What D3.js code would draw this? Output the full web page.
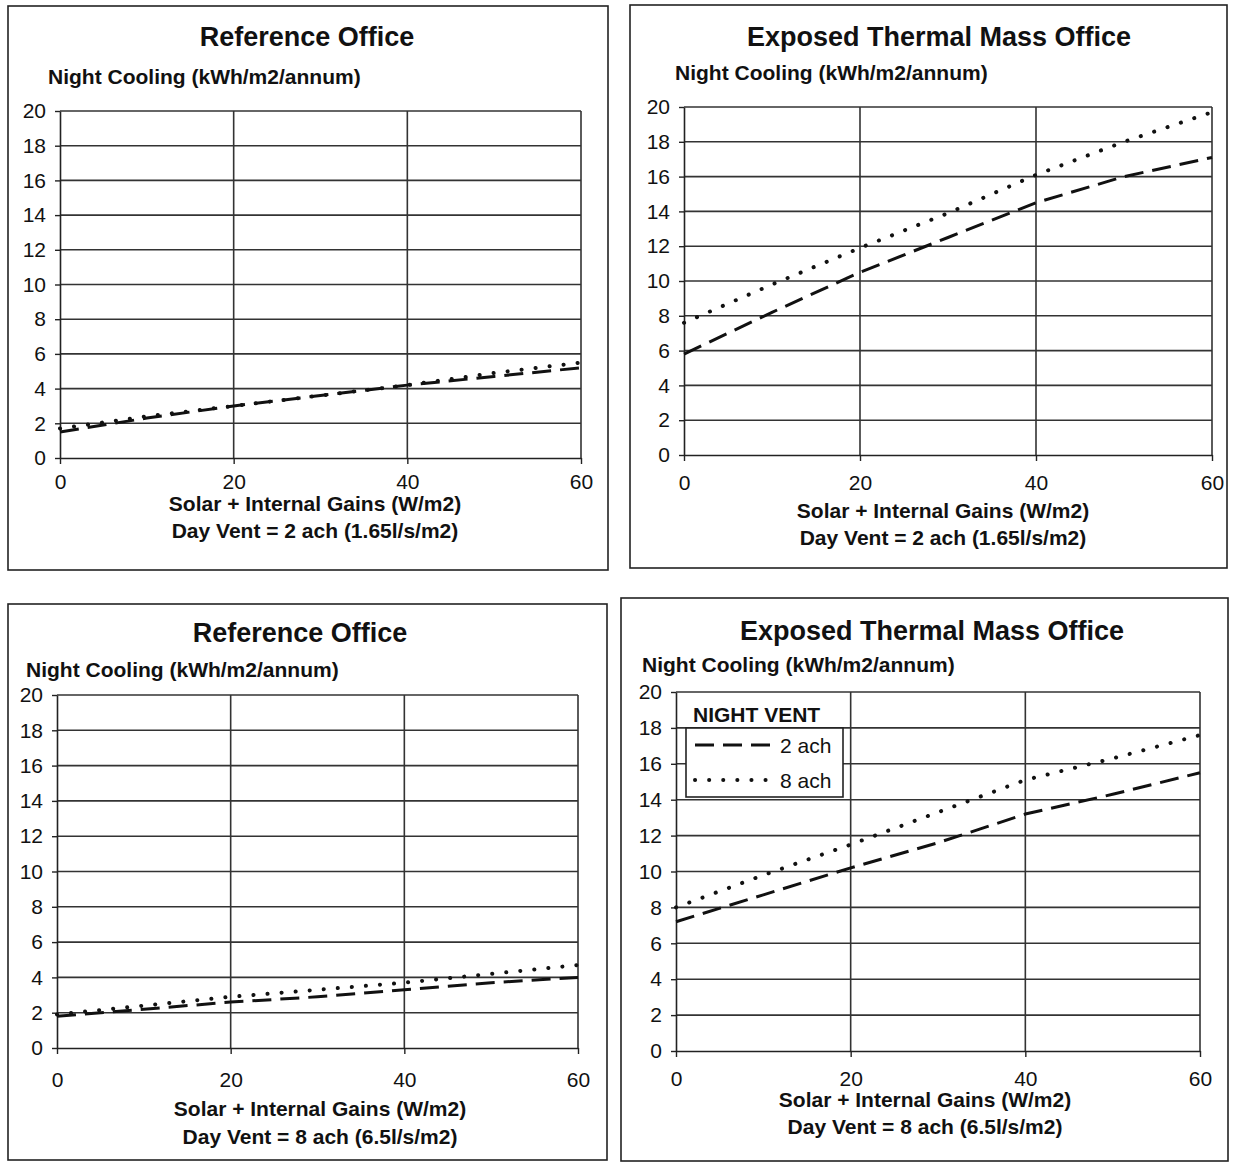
<!DOCTYPE html>
<html>
<head>
<meta charset="utf-8">
<script src="https://cdn.jsdelivr.net/npm/d3@7"></script>
<style>
  body { margin: 0; background: #fff; }
  text { font-family: 'Liberation Sans', Arial, sans-serif; fill: #111; }
</style>
</head>
<body>
<div id="chart"></div>
<script>
// x values (Solar + Internal Gains, W/m2)
var gains = [0, 10, 20, 30, 40, 50, 60];
var xTicks = [0, 20, 40, 60];
var yTicks = [0, 2, 4, 6, 8, 10, 12, 14, 16, 18, 20];

// Night cooling (kWh/m2/annum)
var refDay2_night2 = [1.5, 2.3, 3.0, 3.6, 4.2, 4.7, 5.2];
var refDay2_night8 = [1.7, 2.4, 3.0, 3.6, 4.2, 4.9, 5.5];
var etmDay2_night2 = [5.8, 8.2, 10.5, 12.5, 14.5, 16.0, 17.1];
var etmDay2_night8 = [7.6, 9.8, 11.9, 13.9, 16.1, 18.0, 19.7];
var refDay8_night2 = [1.8, 2.2, 2.6, 2.9, 3.3, 3.7, 4.0];
var refDay8_night8 = [1.9, 2.4, 2.9, 3.3, 3.7, 4.2, 4.7];
var etmDay8_night2 = [7.2, 8.7, 10.2, 11.6, 13.2, 14.3, 15.5];
var etmDay8_night8 = [8.0, 9.8, 11.5, 13.3, 15.1, 16.3, 17.6];

var seriesNames = ['2 ach', '8 ach'];
var dashes = { '2 ach': '19,9', '8 ach': '0.1,14' };

var panels = [
    { title: 'Reference Office', dayVent: 'Day Vent = 2 ach (1.65l/s/m2)',
      values: [refDay2_night2, refDay2_night8],
      box: [8, 6, 600, 564], plot: [60, 581, 111, 458],
      titleX: 307, titleY: 46, ylabX: 48, ylabY: 84, tickY: 31, labX: 315, labY: [511, 538] },
    { title: 'Exposed Thermal Mass Office', dayVent: 'Day Vent = 2 ach (1.65l/s/m2)',
      values: [etmDay2_night2, etmDay2_night8],
      box: [630, 5, 597, 563], plot: [684, 1212, 107, 455],
      titleX: 939, titleY: 46, ylabX: 675, ylabY: 80, tickY: 35, labX: 943, labY: [518, 545] },
    { title: 'Reference Office', dayVent: 'Day Vent = 8 ach (6.5l/s/m2)',
      values: [refDay8_night2, refDay8_night8],
      box: [8, 604, 599, 556], plot: [57, 578, 695, 1048],
      titleX: 300, titleY: 642, ylabX: 26, ylabY: 677, tickY: 39, labX: 320, labY: [1116, 1144] },
    { title: 'Exposed Thermal Mass Office', dayVent: 'Day Vent = 8 ach (6.5l/s/m2)',
      values: [etmDay8_night2, etmDay8_night8],
      box: [621, 598, 607, 563], plot: [676, 1200, 692, 1051],
      titleX: 932, titleY: 640, ylabX: 642, ylabY: 672, tickY: 35, labX: 925, labY: [1107, 1134],
      legend: true }
];

var svg = d3.select('#chart').append('svg')
    .attr('width', 1236)
    .attr('height', 1163);

panels.forEach(function(p) {
    var g = svg.append('g');

    g.append('rect')
        .attr('x', p.box[0]).attr('y', p.box[1])
        .attr('width', p.box[2]).attr('height', p.box[3])
        .attr('fill', 'none').attr('stroke', '#222').attr('stroke-width', 1.6);

    var x = d3.scaleLinear().domain([0, 60]).range([p.plot[0], p.plot[1]]);
    var y = d3.scaleLinear().domain([0, 20]).range([p.plot[3], p.plot[2]]);

    // grid
    g.selectAll('.hgrid').data(yTicks.slice(1)).enter().append('line')
        .attr('x1', x(0)).attr('x2', x(60))
        .attr('y1', d => y(d)).attr('y2', d => y(d))
        .attr('stroke', '#333').attr('stroke-width', 1.6);
    g.selectAll('.vgrid').data(xTicks.slice(1)).enter().append('line')
        .attr('x1', d => x(d)).attr('x2', d => x(d))
        .attr('y1', y(0)).attr('y2', y(20))
        .attr('stroke', '#333').attr('stroke-width', 1.6);

    // axes
    var yAxis = g.append('g')
        .attr('transform', `translate(${x(0)},0)`)
        .call(d3.axisLeft(y).tickValues(yTicks).tickSize(5).tickPadding(9).tickSizeOuter(0));
    var xAxis = g.append('g')
        .attr('transform', `translate(0,${y(0)})`)
        .call(d3.axisBottom(x).tickValues(xTicks).tickSize(6).tickPadding(p.tickY - 21).tickSizeOuter(0));
    [yAxis, xAxis].forEach(function(a) {
        a.select('.domain').attr('stroke', '#222').attr('stroke-width', 1.6);
        a.selectAll('.tick line').attr('stroke', '#222').attr('stroke-width', 1.4);
        a.selectAll('.tick text')
            .attr('font-family', "'Liberation Sans', Arial, sans-serif")
            .attr('font-size', 21).attr('fill', '#111');
    });

    // series
    var line = d3.line()
        .x((d, i) => x(gains[i]))
        .y(d => y(d));
    g.selectAll('.series').data(p.values).enter().append('path')
        .attr('d', d => line(d))
        .attr('fill', 'none')
        .attr('stroke', '#111')
        .attr('stroke-width', (d, i) => i === 0 ? 3 : 4)
        .attr('stroke-linecap', (d, i) => i === 0 ? 'butt' : 'round')
        .attr('stroke-dasharray', (d, i) => dashes[seriesNames[i]]);

    // texts
    g.append('text').attr('x', p.titleX).attr('y', p.titleY)
        .attr('text-anchor', 'middle').attr('font-size', 27).attr('font-weight', 'bold')
        .text(p.title);
    g.append('text').attr('x', p.ylabX).attr('y', p.ylabY)
        .attr('font-size', 21).attr('font-weight', 'bold')
        .text('Night Cooling (kWh/m2/annum)');
    g.append('text').attr('x', p.labX).attr('y', p.labY[0])
        .attr('text-anchor', 'middle').attr('font-size', 21).attr('font-weight', 'bold')
        .text('Solar + Internal Gains (W/m2)');
    g.append('text').attr('x', p.labX).attr('y', p.labY[1])
        .attr('text-anchor', 'middle').attr('font-size', 21).attr('font-weight', 'bold')
        .text(p.dayVent);

    if (p.legend) {
        var lg = g.append('g').attr('transform', 'translate(686,728)');
        lg.append('text').attr('x', 7).attr('y', -6)
            .attr('font-size', 21).attr('font-weight', 'bold').text('NIGHT VENT');
        lg.append('rect').attr('width', 157).attr('height', 69)
            .attr('fill', '#fff').attr('stroke', '#222').attr('stroke-width', 1.6);
        var item = lg.selectAll('.item').data(seriesNames).enter().append('g')
            .attr('transform', (d, i) => `translate(0,${17 + i * 35})`);
        item.append('line').attr('x1', 9).attr('x2', 84)
            .attr('stroke', '#111')
            .attr('stroke-width', (d, i) => i === 0 ? 3 : 4)
            .attr('stroke-linecap', (d, i) => i === 0 ? 'butt' : 'round')
            .attr('stroke-dasharray', d => dashes[d]);
        item.append('text').attr('x', 94).attr('y', 8)
            .attr('font-size', 21).text(d => d);
    }
});
</script>
</body>
</html>
